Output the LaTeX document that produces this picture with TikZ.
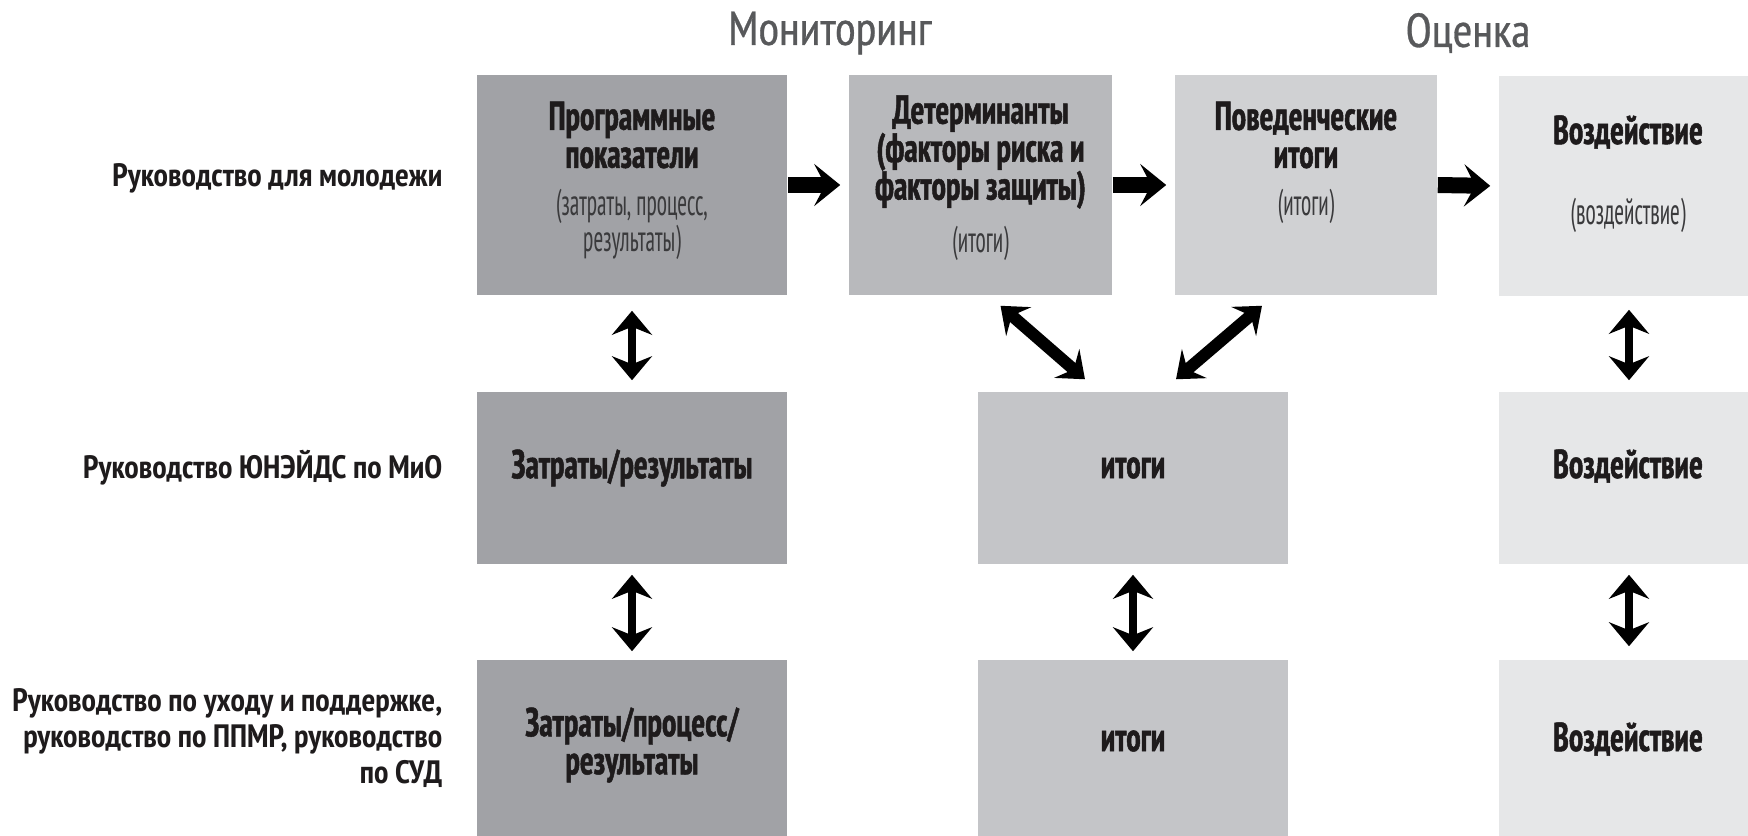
\documentclass[tikz,border=0pt]{standalone}
\usepackage{fontspec}
\setmainfont{PT Sans Narrow}
\newfontfamily\heavyfont{PT Sans Narrow Bold}[FakeStretch=0.8, FakeBold=1.2]
\newfontfamily\lightfont{PT Sans Narrow}[FakeStretch=0.64]
\newfontfamily\midfont{PT Sans Narrow Bold}
\newfontfamily\headfont{PT Sans Narrow}[FakeBold=0.6]
\usetikzlibrary{arrows.meta}

\definecolor{boxA}{HTML}{A1A2A6}
\definecolor{boxB}{HTML}{B8B9BC}
\definecolor{boxM}{HTML}{C4C5C8}
\definecolor{boxC}{HTML}{D0D1D3}
\definecolor{boxD}{HTML}{E6E7E8}
\definecolor{inkT}{HTML}{1E1B1C}
\definecolor{inkS}{HTML}{3A3A3C}
\definecolor{inkH}{HTML}{58595B}

\tikzset{
  box/.style={rectangle, inner sep=0pt, draw=none},
  title/.style={align=center, text=inkT, font=\heavyfont\fontsize{11.5}{10.8}\selectfont},
  sub/.style={align=center, text=inkS, font=\lightfont\fontsize{10.5}{10.2}\selectfont},
  rowlabel/.style={anchor=east, align=right, inner sep=0pt, text=inkT, font=\midfont\fontsize{9.2}{10.2}\selectfont},
  head/.style={text=inkH, font=\headfont\fontsize{13.5}{15}\selectfont},
  fwd/.style={line width=0.16cm, -{Stealth[length=0.26cm, width=0.42cm, inset=0.11cm]}, shorten >=0.08cm},
  updown/.style={line width=0.08cm, {Stealth[length=0.24cm, width=0.40cm, inset=0.08cm]}-{Stealth[length=0.24cm, width=0.40cm, inset=0.08cm]}},
  slant/.style={line width=0.12cm, {Stealth[length=0.24cm, width=0.38cm, inset=0.09cm]}-{Stealth[length=0.24cm, width=0.38cm, inset=0.09cm]}}
}

\begin{document}
\begin{tikzpicture}[x=0.01cm, y=-0.01cm]
\useasboundingbox (0,0) rectangle (1748,835);

% headers
\node[head] (mon) at (830,33) {Мониторинг};
\node[head] (ots) at (1468,33) {Оценка};

% row 1
\node[box, fill=boxA, minimum width=3.10cm, minimum height=2.20cm] (prog) at (632,185) {};
\node[box, fill=boxB, minimum width=2.63cm, minimum height=2.20cm] (det)  at (980.5,185) {};
\node[box, fill=boxC, minimum width=2.62cm, minimum height=2.20cm] (beh)  at (1306,185) {};
\node[box, fill=boxD, minimum width=2.60cm, minimum height=2.20cm] (imp)  at (1629,186) {};

\node[title] (progT) at (632,135) {Программные\\показатели};
\node[sub]   (progS) at (632,224) {(затраты, процесс,\\результаты)};
\node[title] (detT)  at (980.5,152) {Детерминанты\\(факторы риска и\\факторы защиты)};
\node[sub]   (detS)  at (980.5,243) {(итоги)};
\node[title] (behT)  at (1306,135) {Поведенческие\\итоги};
\node[sub]   (behS)  at (1306,206) {(итоги)};
\node[title] (impT)  at (1628,132) {Воздействие};
\node[sub]   (impS)  at (1628,215) {(воздействие)};

% row 2
\node[box, fill=boxA, minimum width=3.10cm, minimum height=1.72cm] (cost) at (632,478) {};
\node[box, fill=boxM, minimum width=3.10cm, minimum height=1.72cm] (mid)  at (1133,478) {};
\node[box, fill=boxD, minimum width=2.60cm, minimum height=1.72cm] (imp2) at (1629,478) {};
\node[title] at (632,468)  {Затраты/результаты};
\node[title] at (1133,468) {итоги};
\node[title] at (1628,466) {Воздействие};

% row 3
\node[box, fill=boxA, minimum width=3.10cm, minimum height=1.90cm] (proc) at (632,755) {};
\node[box, fill=boxM, minimum width=3.10cm, minimum height=1.90cm] (mid3) at (1133,755) {};
\node[box, fill=boxD, minimum width=2.60cm, minimum height=1.90cm] (imp3) at (1629,755) {};
\node[title] at (632,745)  {Затраты/процесс/\\результаты};
\node[title] at (1133,741) {итоги};
\node[title] at (1628,739) {Воздействие};

% row labels
\node[rowlabel] (lab1) at (443,178) {Руководство для молодежи};
\node[rowlabel] (lab2) at (443,468) {Руководство ЮНЭЙДС по МиО};
\node[rowlabel] (lab3) at (443,738) {Руководство по уходу и поддержке,\\руководство по ППМР, руководство\\по СУД};

% arrows
\draw[fwd] (prog.east) -- (det.west);
\draw[fwd] (det.east) -- (beh.west);
\draw[fwd] (beh.east) -- (imp.west);

\draw[updown, shorten <=0.15cm, shorten >=0.11cm] (prog.south) -- (cost.north);
\draw[updown, shorten <=0.10cm, shorten >=0.08cm] (cost.south) -- (proc.north);
\draw[updown, shorten <=0.10cm, shorten >=0.08cm] (mid.south) -- (mid3.north);
\draw[updown, shorten <=0.13cm, shorten >=0.11cm] (imp.south) -- (imp2.north);
\draw[updown, shorten <=0.10cm, shorten >=0.13cm] (imp2.south) -- (imp3.north);

\draw[slant] ([xshift=0.20cm, yshift=-0.10cm]det.south) -- ([xshift=-0.48cm, yshift=0.12cm]mid.north);
\draw[slant] ([xshift=-0.44cm, yshift=-0.10cm]beh.south) -- ([xshift=0.43cm, yshift=0.12cm]mid.north);
\end{tikzpicture}
\end{document}
